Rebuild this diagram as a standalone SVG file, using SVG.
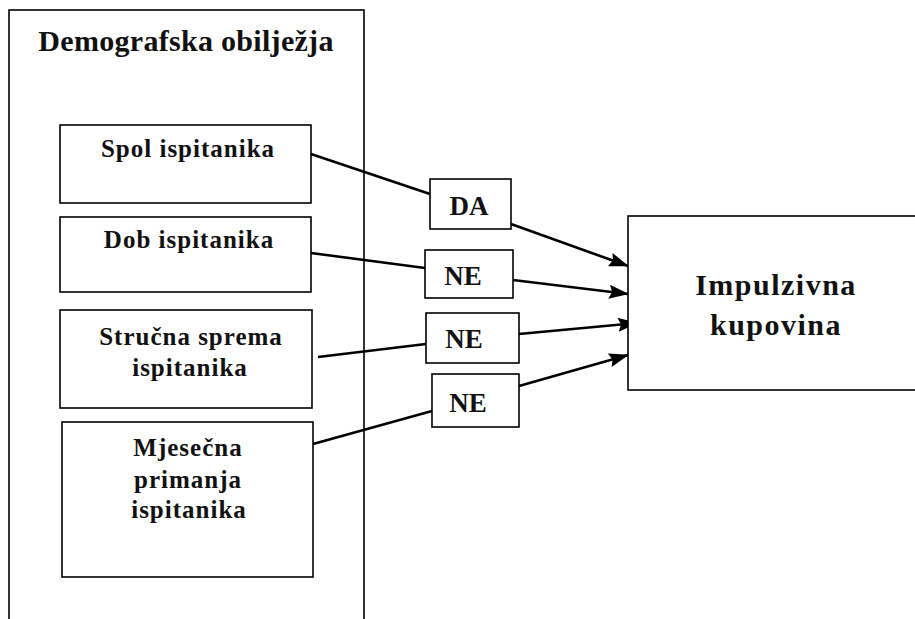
<svg xmlns="http://www.w3.org/2000/svg" width="915" height="619" viewBox="0 0 915 619">
<style>
.box{fill:#fff;stroke:#000;stroke-width:1.6}
.t{font-family:"Liberation Serif","Times New Roman",serif;font-weight:bold;fill:#111;text-anchor:middle}
.s26{font-size:25px;letter-spacing:1px}
.s27{font-size:27px}
.s30{font-size:30px;letter-spacing:0.3px}
.c{stroke:#000;stroke-width:2.6;fill:none}
</style>
<defs>
<marker id="ah" viewBox="0 0 20 14" refX="19" refY="7" markerWidth="20" markerHeight="14" markerUnits="userSpaceOnUse" orient="auto">
<path d="M0,0 L20,7 L0,14 L3,7 z" fill="#000"/>
</marker>
</defs>
<g id="demografska">
<rect class="box" x="9" y="10" width="355" height="620"/>
<text class="t s30" x="186" y="51">Demografska obilježja</text>
</g>
<g id="spol">
<rect class="box" x="60" y="125" width="251" height="78"/>
<text class="t s26" x="188" y="157">Spol ispitanika</text>
</g>
<g id="dob">
<rect class="box" x="60" y="217" width="251" height="75"/>
<text class="t s26" x="189" y="248">Dob ispitanika</text>
</g>
<g id="strucna">
<rect class="box" x="60" y="310" width="252" height="98"/>
<text class="t s26" x="191" y="345">Stručna sprema</text>
<text class="t s26" x="190" y="376">ispitanika</text>
</g>
<g id="mjesecna">
<rect class="box" x="62" y="422" width="251" height="155"/>
<text class="t s26" x="188" y="456">Mjesečna</text>
<text class="t s26" x="188" y="488">primanja</text>
<text class="t s26" x="189" y="518">ispitanika</text>
</g>
<g id="connectors">
<polyline class="c" points="311,154 430,194"/>
<line class="c" x1="511" y1="224" x2="628" y2="266" marker-end="url(#ah)"/>
<polyline class="c" points="311,253 425,268"/>
<line class="c" x1="513" y1="280" x2="628" y2="294" marker-end="url(#ah)"/>
<polyline class="c" points="318,357 426,344"/>
<line class="c" x1="519" y1="334" x2="637" y2="323" marker-end="url(#ah)"/>
<polyline class="c" points="313,444 432,411"/>
<line class="c" x1="519" y1="386" x2="628" y2="355" marker-end="url(#ah)"/>
</g>
<g id="da">
<rect class="box" x="430" y="179" width="81" height="50"/>
<text class="t s27" x="469" y="215">DA</text>
</g>
<g id="ne1">
<rect class="box" x="425" y="250" width="88" height="48"/>
<text class="t s27" x="463" y="285">NE</text>
</g>
<g id="ne2">
<rect class="box" x="426" y="313" width="93" height="50"/>
<text class="t s27" x="464" y="348">NE</text>
</g>
<g id="ne3">
<rect class="box" x="432" y="374" width="87" height="53"/>
<text class="t s27" x="468" y="412">NE</text>
</g>
<g id="impulzivna">
<rect class="box" x="628" y="216" width="300" height="174"/>
<text class="t s30" x="776" y="295" style="letter-spacing:1.5px">Impulzivna</text>
<text class="t s30" x="776" y="335" style="letter-spacing:1.5px">kupovina</text>
</g>
</svg>
